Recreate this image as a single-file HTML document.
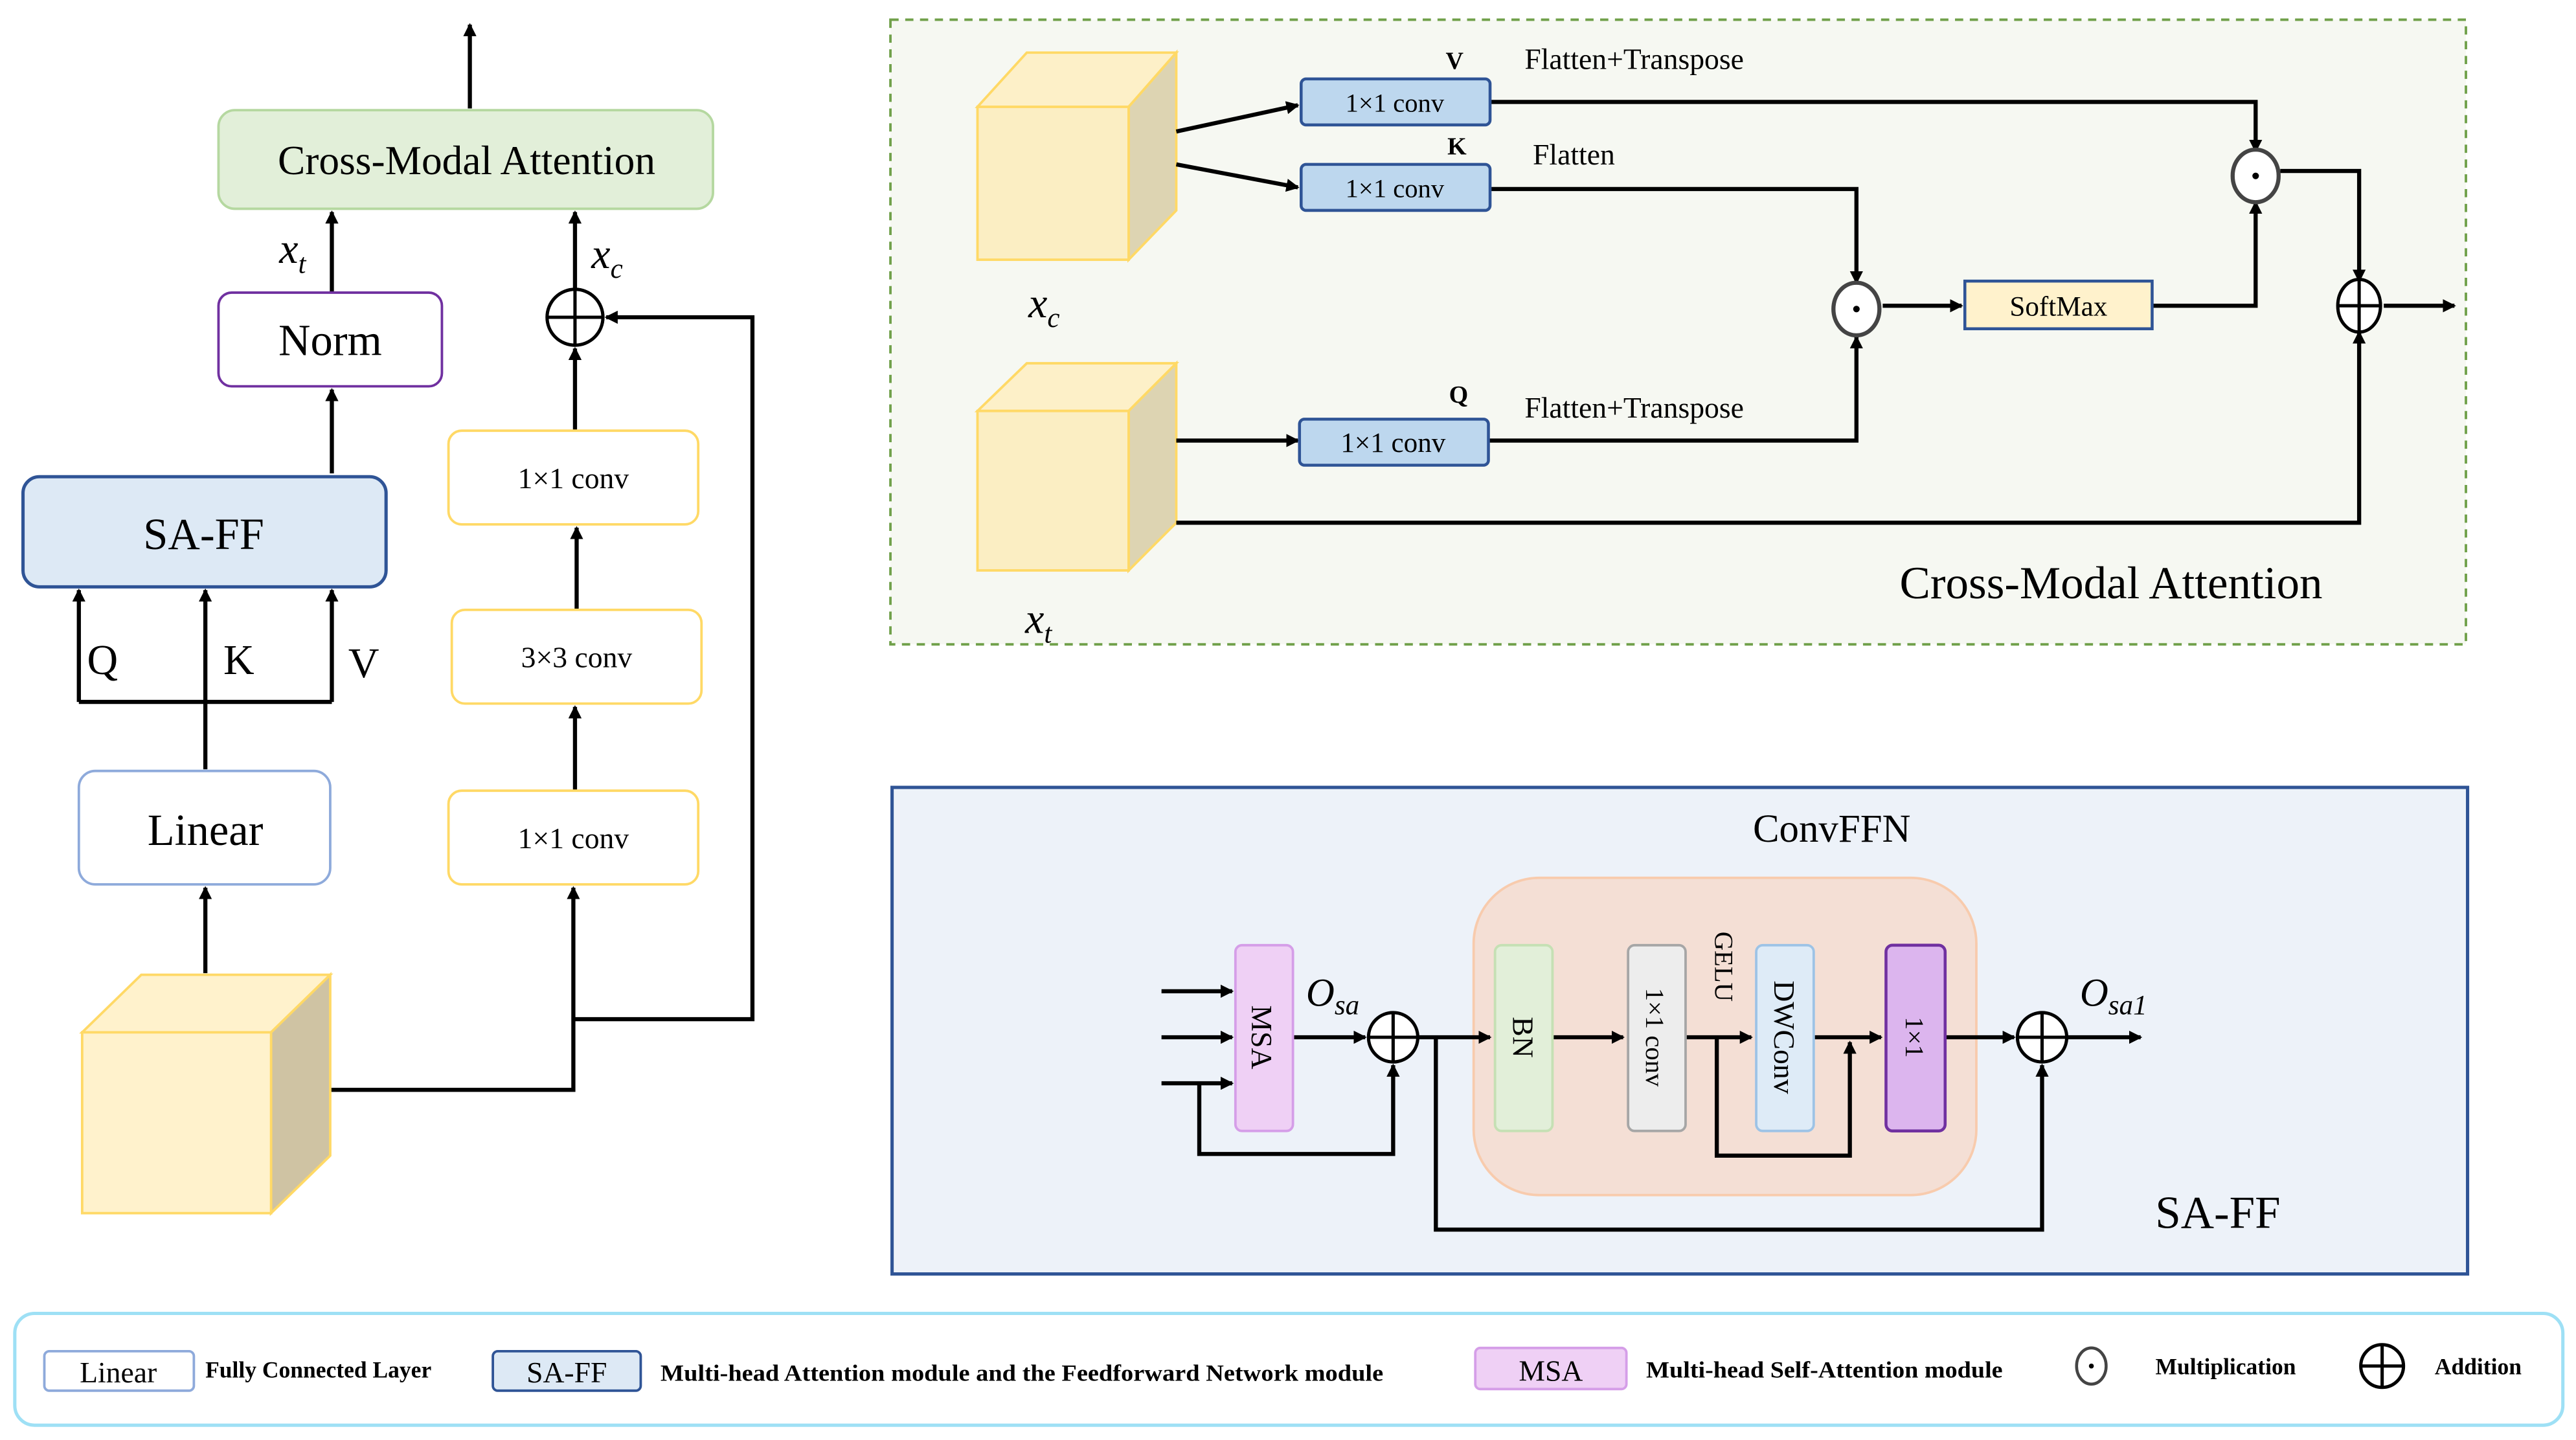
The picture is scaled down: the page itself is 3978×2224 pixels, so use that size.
<!DOCTYPE html>
<html><head><meta charset="utf-8"><style>html,body{margin:0;padding:0;background:#fff}svg{display:block}svg text{font-family:"Liberation Serif","Times New Roman","DejaVu Serif",serif}</style></head>
<body>
<svg width="3978" height="2224" viewBox="0 0 1568 876" preserveAspectRatio="none" xmlns="http://www.w3.org/2000/svg">
<defs>
<marker id="a" markerWidth="8" markerHeight="8" refX="7" refY="4" orient="auto" markerUnits="userSpaceOnUse"><path d="M0,0 L8,4 L0,8 z" fill="#000"/></marker>
</defs>
<g stroke="#000" stroke-width="2.5" fill="none">
<line x1="286" y1="66" x2="286" y2="15" marker-end="url(#a)"/>
<line x1="202" y1="178" x2="202" y2="129" marker-end="url(#a)"/>
<line x1="202" y1="288" x2="202" y2="237" marker-end="url(#a)"/>
<polyline points="48,427 48,359" marker-end="url(#a)"/>
<polyline points="202,427 202,359" marker-end="url(#a)"/>
<line x1="125" y1="468" x2="125" y2="359" marker-end="url(#a)"/>
<line x1="48" y1="427" x2="202" y2="427"/>
<line x1="125" y1="592" x2="125" y2="540" marker-end="url(#a)"/>
<polyline points="201,663 349,663 349,540" marker-end="url(#a)"/>
<polyline points="349,620 458,620 458,193 369,193" marker-end="url(#a)"/>
<line x1="350" y1="262" x2="350" y2="212" marker-end="url(#a)"/>
<line x1="351" y1="371" x2="351" y2="321" marker-end="url(#a)"/>
<line x1="350" y1="481" x2="350" y2="430" marker-end="url(#a)"/>
<line x1="350" y1="176" x2="350" y2="129" marker-end="url(#a)"/>
</g>
<rect x="133" y="67" width="301" height="60" rx="10" fill="#e2efd9" stroke="#b5d8a0" stroke-width="1.5"/>
<text x="284" y="106" font-size="25" text-anchor="middle">Cross-Modal Attention</text>
<text x="170" y="160" font-size="26" font-style="italic">x<tspan font-size="17" dy="6">t</tspan></text>
<rect x="133" y="178" width="136" height="57" rx="8" fill="#fff" stroke="#7030a0" stroke-width="1.5"/>
<text x="201" y="216" font-size="27" text-anchor="middle">Norm</text>
<rect x="14" y="290" width="221" height="67" rx="10" fill="#dde9f5" stroke="#2f5496" stroke-width="2"/>
<text x="124" y="334" font-size="27" text-anchor="middle">SA-FF</text>
<text x="53" y="410" font-size="26">Q</text>
<text x="136" y="410" font-size="26">K</text>
<text x="212" y="412" font-size="26">V</text>
<rect x="48" y="469" width="153" height="69" rx="10" fill="#fff" stroke="#8eaadb" stroke-width="1.5"/>
<text x="125" y="514" font-size="27" text-anchor="middle">Linear</text>
<polygon points="50,628 86,593 201,593 165,628" fill="#fff2cc" stroke="#ffd966" stroke-width="1.5"/>
<polygon points="165,628 201,593 201,703 165,738" fill="#cfc3a3" stroke="#ffd966" stroke-width="1.5"/>
<rect x="50" y="628" width="115" height="110" fill="#fff2cc" stroke="#ffd966" stroke-width="1.5"/>
<circle cx="350" cy="193" r="17" fill="#fff" stroke="#000" stroke-width="2"/>
<path d="M333,193 H367 M350,176 V210" stroke="#000" stroke-width="2"/>
<text x="360" y="163" font-size="26" font-style="italic">x<tspan font-size="17" dy="6">c</tspan></text>
<rect x="273" y="262" width="152" height="57" rx="8" fill="#fff" stroke="#ffd966" stroke-width="1.5"/>
<text x="349" y="297" font-size="18" text-anchor="middle">1×1 conv</text>
<rect x="275" y="371" width="152" height="57" rx="8" fill="#fff" stroke="#ffd966" stroke-width="1.5"/>
<text x="351" y="406" font-size="18" text-anchor="middle">3×3 conv</text>
<rect x="273" y="481" width="152" height="57" rx="8" fill="#fff" stroke="#ffd966" stroke-width="1.5"/>
<text x="349" y="516" font-size="18" text-anchor="middle">1×1 conv</text>

<rect x="542" y="12" width="959" height="380" fill="#f6f8f2" stroke="#70a04a" stroke-width="1.5" stroke-dasharray="5,4"/>
<polygon points="595,65 625,32 716,32 687,65" fill="#fdf0c8" stroke="#ffd966" stroke-width="1.5"/>
<polygon points="687,65 716,32 716,128 687,158" fill="#ddd4b2" stroke="#ffd966" stroke-width="1.5"/>
<rect x="595" y="65" width="92" height="93" fill="#fbeec3" stroke="#ffd966" stroke-width="1.5"/>
<polygon points="595,250 625,221 716,221 687,250" fill="#fdf0c8" stroke="#ffd966" stroke-width="1.5"/>
<polygon points="687,250 716,221 716,318 687,347" fill="#ddd4b2" stroke="#ffd966" stroke-width="1.5"/>
<rect x="595" y="250" width="92" height="97" fill="#fbeec3" stroke="#ffd966" stroke-width="1.5"/>
<text x="626" y="193" font-size="26" font-style="italic">x<tspan font-size="17" dy="6">c</tspan></text>
<text x="624" y="385" font-size="26" font-style="italic">x<tspan font-size="17" dy="6">t</tspan></text>
<g stroke="#000" stroke-width="2.5" fill="none">
<line x1="716" y1="80" x2="790" y2="64" marker-end="url(#a)"/>
<line x1="716" y1="100" x2="790" y2="114" marker-end="url(#a)"/>
<line x1="716" y1="268" x2="790" y2="268" marker-end="url(#a)"/>
<polyline points="907,62 1373,62 1373,92" marker-end="url(#a)"/>
<polyline points="907,115 1130,115 1130,172" marker-end="url(#a)"/>
<polyline points="906,268 1130,268 1130,205" marker-end="url(#a)"/>
<line x1="1146" y1="186" x2="1194" y2="186" marker-end="url(#a)"/>
<polyline points="1310,186 1373,186 1373,123" marker-end="url(#a)"/>
<polyline points="1388,104 1436,104 1436,171" marker-end="url(#a)"/>
<polyline points="716,318 1436,318 1436,202" marker-end="url(#a)"/>
<line x1="1451" y1="186" x2="1494" y2="186" marker-end="url(#a)"/>
</g>
<rect x="792" y="48" width="115" height="28" rx="3" fill="#bdd7ee" stroke="#2f5496" stroke-width="1.8"/>
<text x="849" y="68" font-size="16" text-anchor="middle">1×1 conv</text>
<rect x="792" y="100" width="115" height="28" rx="3" fill="#bdd7ee" stroke="#2f5496" stroke-width="1.8"/>
<text x="849" y="120" font-size="16" text-anchor="middle">1×1 conv</text>
<rect x="791" y="255" width="115" height="28" rx="3" fill="#bdd7ee" stroke="#2f5496" stroke-width="1.8"/>
<text x="848" y="275" font-size="17" text-anchor="middle">1×1 conv</text>
<text x="880" y="42" font-size="15" font-weight="bold">V</text>
<text x="881" y="94" font-size="15" font-weight="bold">K</text>
<text x="882" y="245" font-size="15" font-weight="bold">Q</text>
<text x="928" y="42" font-size="18">Flatten+Transpose</text>
<text x="933" y="100" font-size="18">Flatten</text>
<text x="928" y="254" font-size="18">Flatten+Transpose</text>
<ellipse cx="1130" cy="188" rx="14" ry="16" fill="#fff" stroke="#444" stroke-width="2.5"/>
<circle cx="1130" cy="188" r="2" fill="#000"/>
<ellipse cx="1373" cy="107" rx="14" ry="16" fill="#fff" stroke="#444" stroke-width="2.5"/>
<circle cx="1373" cy="107" r="2" fill="#000"/>
<rect x="1196" y="171" width="114" height="29" fill="#fff2cc" stroke="#2f5496" stroke-width="1.8"/>
<text x="1253" y="192" font-size="17" text-anchor="middle">SoftMax</text>
<ellipse cx="1436" cy="186" rx="13" ry="16" fill="#fff" stroke="#000" stroke-width="2"/>
<path d="M1423,186 H1449 M1436,170 V202" stroke="#000" stroke-width="2"/>
<text x="1285" y="364" font-size="28" text-anchor="middle">Cross-Modal Attention</text>

<rect x="543" y="479" width="959" height="296" fill="#edf2f9" stroke="#2f5496" stroke-width="2"/>
<text x="1115" y="512" font-size="24" text-anchor="middle">ConvFFN</text>
<rect x="897" y="534" width="306" height="193" rx="40" fill="#f4dfd5" stroke="#f8cbad" stroke-width="1.5"/>
<g stroke="#000" stroke-width="2.5" fill="none">
<line x1="707" y1="603" x2="750" y2="603" marker-end="url(#a)"/>
<line x1="707" y1="631" x2="750" y2="631" marker-end="url(#a)"/>
<line x1="707" y1="659" x2="750" y2="659" marker-end="url(#a)"/>
<polyline points="730,659 730,702 848,702 848,648" marker-end="url(#a)"/>
<line x1="787" y1="631" x2="831" y2="631" marker-end="url(#a)"/>
<line x1="863" y1="631" x2="907" y2="631" marker-end="url(#a)"/>
<polyline points="874,631 874,748 1243,748 1243,648" marker-end="url(#a)"/>
<line x1="945" y1="631" x2="988" y2="631" marker-end="url(#a)"/>
<line x1="1026" y1="631" x2="1066" y2="631" marker-end="url(#a)"/>
<polyline points="1045,631 1045,703 1126,703 1126,634" marker-end="url(#a)"/>
<line x1="1104" y1="631" x2="1145" y2="631" marker-end="url(#a)"/>
<line x1="1184" y1="631" x2="1226" y2="631" marker-end="url(#a)"/>
<line x1="1258" y1="631" x2="1303" y2="631" marker-end="url(#a)"/>
</g>
<rect x="752" y="575" width="35" height="113" rx="4" fill="#efd0f5" stroke="#d59ee8" stroke-width="1.5"/>
<text transform="translate(762,631) rotate(90)" font-size="18" text-anchor="middle">MSA</text>
<rect x="910" y="575" width="35" height="113" rx="4" fill="#e2efd9" stroke="#c5e0b4" stroke-width="1.5"/>
<text transform="translate(921,631) rotate(90)" font-size="18" text-anchor="middle">BN</text>
<rect x="991" y="575" width="35" height="113" rx="4" fill="#ededed" stroke="#a6a6a6" stroke-width="1.5"/>
<text transform="translate(1002,631) rotate(90)" font-size="16" text-anchor="middle">1×1 conv</text>
<text transform="translate(1044,588) rotate(90)" font-size="16" text-anchor="middle">GELU</text>
<rect x="1069" y="575" width="35" height="113" rx="4" fill="#deebf7" stroke="#9dc3e6" stroke-width="1.5"/>
<text transform="translate(1080,631) rotate(90)" font-size="18" text-anchor="middle">DWConv</text>
<rect x="1148" y="575" width="36" height="113" rx="4" fill="#dcb5ee" stroke="#7030a0" stroke-width="1.8"/>
<text transform="translate(1160,631) rotate(90)" font-size="16" text-anchor="middle">1×1</text>
<circle cx="848" cy="631" r="15" fill="#fff" stroke="#000" stroke-width="2"/>
<path d="M833,631 H863 M848,616 V646" stroke="#000" stroke-width="2"/>
<circle cx="1243" cy="631" r="15" fill="#fff" stroke="#000" stroke-width="2"/>
<path d="M1228,631 H1258 M1243,616 V646" stroke="#000" stroke-width="2"/>
<text x="795" y="612" font-size="24" font-style="italic">O<tspan font-size="17" dy="5">sa</tspan></text>
<text x="1266" y="612" font-size="24" font-style="italic">O<tspan font-size="17" dy="5">sa1</tspan></text>
<text x="1350" y="747" font-size="28" text-anchor="middle">SA-FF</text>

<rect x="9" y="799" width="1551" height="68" rx="12" fill="#fff" stroke="#9ee0f5" stroke-width="2"/>
<rect x="27" y="822" width="91" height="24" rx="3" fill="#fff" stroke="#8eaadb" stroke-width="1.5"/>
<text x="72" y="841" font-size="18" text-anchor="middle">Linear</text>
<text x="125" y="838" font-size="14" font-weight="bold">Fully Connected Layer</text>
<rect x="300" y="822" width="90" height="24" rx="3" fill="#dde9f5" stroke="#2f5496" stroke-width="1.5"/>
<text x="345" y="841" font-size="18" text-anchor="middle">SA-FF</text>
<text x="402" y="840" font-size="14" font-weight="bold" textLength="440" lengthAdjust="spacingAndGlyphs">Multi-head Attention module and the Feedforward Network module</text>
<rect x="898" y="820" width="92" height="25" rx="3" fill="#efd0f5" stroke="#d59ee8" stroke-width="1.5"/>
<text x="944" y="840" font-size="18" text-anchor="middle">MSA</text>
<text x="1002" y="838" font-size="14" font-weight="bold" textLength="217" lengthAdjust="spacingAndGlyphs">Multi-head Self-Attention module</text>
<ellipse cx="1273" cy="831" rx="9" ry="11" fill="#fff" stroke="#444" stroke-width="1.8"/>
<circle cx="1273" cy="831" r="1.5" fill="#000"/>
<text x="1312" y="836" font-size="14" font-weight="bold">Multiplication</text>
<circle cx="1450" cy="831" r="13" fill="#fff" stroke="#000" stroke-width="2"/>
<path d="M1437,831 H1463 M1450,818 V844" stroke="#000" stroke-width="2"/>
<text x="1482" y="836" font-size="14" font-weight="bold">Addition</text>
</svg>
</body></html>
